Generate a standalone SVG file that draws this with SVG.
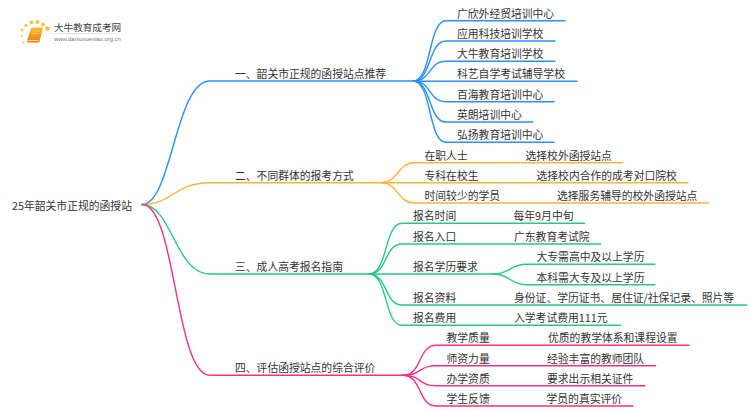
<svg xmlns="http://www.w3.org/2000/svg" width="750" height="410" viewBox="0 0 750 410">
<style>
text{font-family:"Noto Sans CJK SC","Liberation Sans",sans-serif;font-size:10.8px;fill:#333}
.l{fill:none;stroke-width:1.4;stroke-linecap:round}
.b{stroke:#2a90ff}.o{stroke:#fbb437}.g{stroke:#25c981}.p{stroke:#ff2f83}
</style>
<defs>
<linearGradient id="u" x1="0" x2="1" y1="0" y2="0"><stop offset="0" stop-color="#ccc" stop-opacity="0"/><stop offset=".3" stop-color="#ccc"/><stop offset="1" stop-color="#ccc" stop-opacity="0"/></linearGradient>
<linearGradient id="bk" x1="0" x2="0" y1="0" y2="1"><stop offset="0" stop-color="#fdb92e"/><stop offset="1" stop-color="#ee7d12"/></linearGradient>
</defs>
<g id="connectors">
<path class="l b" d="M142,204.500C172,204.500 175,81 210,81H413"/>
<path class="l b" d="M413,81C432,81 428,20.700 446,20.700H565"/>
<path class="l b" d="M413,81C432,81 428,41 446,41H555"/>
<path class="l b" d="M413,81C432,81 428,61.300 446,61.300H555"/>
<path class="l b" d="M413,81.300H577"/>
<path class="l b" d="M413,81C432,81 428,101.700 446,101.700H554"/>
<path class="l b" d="M413,81C432,81 428,122 446,122H533"/>
<path class="l b" d="M413,81C432,81 428,142.300 446,142.300H554"/>
<path class="l o" d="M142,204.500C172,204.500 175,182.700 210,182.700H381"/>
<path class="l o" d="M381,182.700C398,182.700 398,162.700 414,162.700H622.700"/>
<path class="l o" d="M381,182.700H688"/>
<path class="l o" d="M381,182.700C398,182.700 398,203 414,203H708.700"/>
<path class="l g" d="M142,204.500C172,204.500 175,274 210,274H369"/>
<path class="l g" d="M369,274C388,274 384,223.300 402,223.300H584.700"/>
<path class="l g" d="M369,274C388,274 384,244 402,244H600.700"/>
<path class="l g" d="M369,274H493"/>
<path class="l g" d="M369,274C388,274 384,305 402,305H746.700"/>
<path class="l g" d="M369,274C388,274 384,325.300 402,325.300H620.700"/>
<path class="l g" d="M493,274C510,274 510,264.300 526,264.300H655"/>
<path class="l g" d="M493,274C510,274 510,284.700 526,284.700H655"/>
<path class="l p" d="M142,204.500C176,204.500 175,375.300 210,375.300H403"/>
<path class="l p" d="M403,375.300C422,375.300 418,345.300 436,345.300H689"/>
<path class="l p" d="M403,375.300C422,375.300 418,365.700 436,365.700H655.700"/>
<path class="l p" d="M403,375.300C422,375.300 418,385.700 436,385.700H645"/>
<path class="l p" d="M403,375.300C422,375.300 418,406 436,406H633"/>
</g>
<g id="logo">
<g fill="#fbc04a"><circle cx="23.500" cy="42.500" r="1"/><circle cx="21.500" cy="36" r="1"/><circle cx="22" cy="30" r="1.400"/><circle cx="26" cy="25.500" r="1.600"/><circle cx="31.500" cy="22.500" r="1.900"/><circle cx="37.500" cy="22" r="2"/><circle cx="43" cy="24.500" r="2"/><circle cx="47.500" cy="28.500" r="2.300"/></g>
<path d="M31,28.500Q31.500,27.500 33,27.500H43L39.500,41.500Q39,42.500 38,42.500H28.500Q26.500,42.500 27,40.500Z" fill="url(#bk)"/>
<path d="M27.500,40.500H38.500" stroke="#ffe0a8" stroke-width="1"/>
<path d="M32.500,31H40M32,33.500H39" stroke="#ffd48a" stroke-width=".7"/>
<rect x="45" y="33" width="88" height=".8" fill="url(#u)"/>
<text x="54" y="31" style="font-size:9.600px;fill:#444">大牛教育成考网</text>
<text x="54" y="41" style="font-family:'Liberation Sans',sans-serif;font-size:5.900px;fill:#777">www.daniuxuexiao.org.cn</text>
</g>
<g id="nodes" transform="translate(0,.7)">
<g id="root"><text x="12" y="209">25年韶关市正规的函授站</text></g>
<g id="n1"><text x="235" y="77.500">一、韶关市正规的函授站点推荐</text></g>
<g id="n1-1"><text x="457" y="17">广欣外经贸培训中心</text></g>
<g id="n1-2"><text x="457" y="37.300">应用科技培训学校</text></g>
<g id="n1-3"><text x="457" y="57.600">大牛教育培训学校</text></g>
<g id="n1-4"><text x="457" y="77.800">科艺自学考试辅导学校</text></g>
<g id="n1-5"><text x="457" y="98">百海教育培训中心</text></g>
<g id="n1-6"><text x="457" y="118.300">英朗培训中心</text></g>
<g id="n1-7"><text x="457" y="138.600">弘扬教育培训中心</text></g>
<g id="n2"><text x="235" y="179">二、不同群体的报考方式</text></g>
<g id="n2-1"><text x="424.500" y="159">在职人士</text><text x="525.500" y="159">选择校外函授站点</text></g>
<g id="n2-2"><text x="424.500" y="179.300">专科在校生</text><text x="536.500" y="179.300">选择校内合作的成考对口院校</text></g>
<g id="n2-3"><text x="424.500" y="199.500">时间较少的学员</text><text x="557" y="199.500">选择服务辅导的校外函授站点</text></g>
<g id="n3"><text x="235" y="270.500">三、成人高考报名指南</text></g>
<g id="n3-1"><text x="413" y="219.700">报名时间</text><text x="513.500" y="219.700">每年9月中旬</text></g>
<g id="n3-2"><text x="413" y="240">报名入口</text><text x="514" y="240">广东教育考试院</text></g>
<g id="n3-3"><text x="413" y="270.500">报名学历要求</text></g>
<g id="n3-3-1"><text x="536.500" y="260.500">大专需高中及以上学历</text></g>
<g id="n3-3-2"><text x="536.500" y="281">本科需大专及以上学历</text></g>
<g id="n3-4"><text x="413" y="301.300">报名资料</text><text x="514" y="301.300">身份证、学历证书、居住证/社保记录、照片等</text></g>
<g id="n3-5"><text x="413" y="321.700">报名费用</text><text x="514" y="321.700">入学考试费用111元</text></g>
<g id="n4"><text x="235" y="371.700">四、评估函授站点的综合评价</text></g>
<g id="n4-1"><text x="446.500" y="341.700">教学质量</text><text x="548" y="341.700">优质的教学体系和课程设置</text></g>
<g id="n4-2"><text x="446.500" y="362">师资力量</text><text x="547" y="362">经验丰富的教师团队</text></g>
<g id="n4-3"><text x="446.500" y="382.200">办学资质</text><text x="547" y="382.200">要求出示相关证件</text></g>
<g id="n4-4"><text x="446.500" y="402.500">学生反馈</text><text x="546.500" y="402.500">学员的真实评价</text></g>
</g>
</svg>
